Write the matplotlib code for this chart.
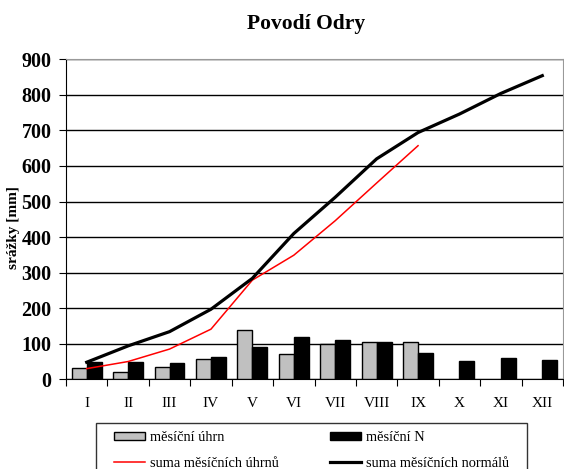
import matplotlib
matplotlib.use("Agg")
import matplotlib.pyplot as plt
from matplotlib.patches import Rectangle, Patch
from matplotlib.lines import Line2D
import numpy as np

# měsíce a hodnoty srážek [mm]
months = ["I", "II", "III", "IV", "V", "VI", "VII", "VIII", "IX", "X", "XI", "XII"]
mesicni_uhrn = [31, 21, 35, 56, 139, 70, 98, 106, 105]
mesicni_n = [48, 48, 45, 62, 90, 120, 111, 106, 75, 51, 59, 54]
suma_uhrnu = [30, 50, 85, 141, 279, 349, 446, 552, 657]
suma_normalu = [48, 94, 134, 197, 284, 410, 512, 620, 694, 746, 804, 854]

plt.rcParams['font.family'] = ['Liberation Serif', 'DejaVu Serif']

fig = plt.figure(figsize=(5.64, 4.69), dpi=100)
ax = fig.add_axes([66 / 564, 1 - 379.3 / 469, 497 / 564, 320 / 469])

x = np.arange(len(months))
w = 0.36
ax.bar(x[:len(mesicni_uhrn)] - w / 2, mesicni_uhrn, width=w, color='#c0c0c0',
       edgecolor='black', linewidth=1, zorder=3)
ax.bar(x + w / 2, mesicni_n, width=w, color='black',
       edgecolor='black', linewidth=1, zorder=3)
ax.plot(x[:len(suma_uhrnu)], suma_uhrnu, color='#ff0000', lw=1.1, zorder=4)
ax.plot(x, suma_normalu, color='black', lw=2.3, zorder=5)

ax.set_xlim(-0.5, len(months) - 0.5)
ax.set_ylim(0, 900)
ax.set_yticks(range(0, 901, 100))
ax.tick_params(axis='y', labelsize=14.5, length=5, direction='out', pad=5.5)
for lab in ax.get_yticklabels():
    lab.set_fontweight('bold')

# popisky měsíců mezi značkami na hranicích kategorií
ax.set_xticks(np.arange(-0.5, len(months), 1))
ax.set_xticklabels([])
ax.set_xticks(x, minor=True)
ax.set_xticklabels(months, minor=True)
ax.tick_params(axis='x', which='major', length=5, direction='out')
ax.tick_params(axis='x', which='minor', length=0, labelsize=11, pad=13)

ax.grid(axis='y', color='black', lw=1, zorder=0)
ax.spines['top'].set_color('#999999')
ax.spines['right'].set_color('#999999')
ax.spines['left'].set_color('black')
ax.spines['bottom'].set_color('black')

ax.set_ylabel("srážky [mm]", fontsize=11, fontweight='bold')
ax.yaxis.set_label_coords(-0.0926, 0.473)
fig.text(306 / 564, 1 - 24 / 469, "Povodí Odry", ha='center', va='center',
         fontsize=15.5, fontweight='bold')

# legenda pod grafem
handles = [
    Patch(facecolor='#c0c0c0', edgecolor='black', linewidth=1, label='měsíční úhrn'),
    Line2D([], [], color='#ff0000', lw=1.1, label='suma měsíčních úhrnů'),
    Patch(facecolor='black', edgecolor='black', linewidth=1, label='měsíční N'),
    Line2D([], [], color='black', lw=2.3, label='suma měsíčních normálů'),
]
fig.legend(handles=handles, ncol=2, loc='upper left',
           bbox_to_anchor=(104 / 564, 1 - 421 / 469), frameon=False,
           fontsize=10.4, handlelength=2.15, handleheight=0.5,
           handletextpad=0.3, columnspacing=3.6, labelspacing=0.88,
           borderpad=0.2)
fig.patches.append(Rectangle((95.7 / 564, -0.05), 431 / 564, 0.05 + 46.3 / 469,
                             transform=fig.transFigure, fill=False,
                             edgecolor='#333333', lw=1))

fig.savefig("out.png", dpi=100, facecolor='white')
